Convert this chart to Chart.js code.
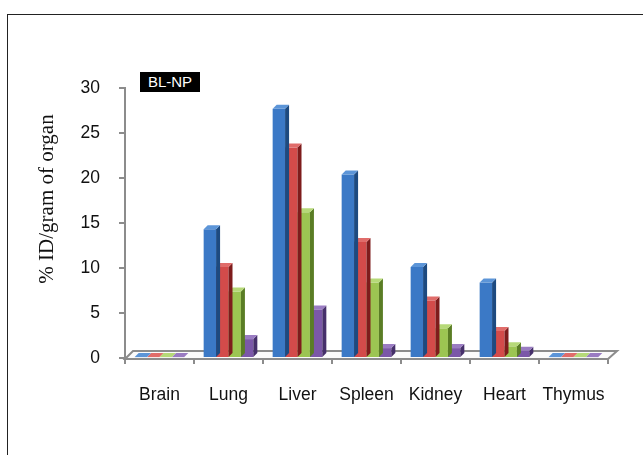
<!DOCTYPE html>
<html>
<head>
<meta charset="utf-8">
<script src="https://cdn.jsdelivr.net/npm/chart.js@4.4.1/dist/chart.umd.min.js"></script>
<style>
  html, body { margin: 0; padding: 0; background: #fff; overflow: hidden; }
  #frame { position: absolute; left: 7px; top: 14px; width: 700px; height: 500px; border: 1px solid #222; }
  #wrap { position: absolute; left: 0; top: 0; width: 643px; height: 455px; }
  #tag { position: absolute; left: 140px; top: 72px; width: 60px; height: 20px; background: #000; color: #fff;
         font: 15px "Liberation Sans Narrow", "Liberation Sans", Arial, sans-serif; line-height: 20px; text-align: center; }
</style>
</head>
<body>
<div id="frame"></div>
<div id="wrap"><canvas id="chart" width="643" height="455"></canvas></div>
<div id="tag">BL-NP</div>
<script>
const organs = ['Brain', 'Lung', 'Liver', 'Spleen', 'Kidney', 'Heart', 'Thymus'];
const series1 = [0.1, 14.3, 27.7, 20.4, 10.1, 8.4, 0.1];
const series2 = [0.1, 10.1, 23.4, 12.9, 6.4, 3.0, 0.1];
const series3 = [0.1, 7.4, 16.2, 8.4, 3.3, 1.3, 0.1];
const series4 = [0.1, 2.1, 5.4, 1.1, 1.1, 0.8, 0.1];
const yTicks = [0, 5, 10, 15, 20, 25, 30];

// front, side, top colours per series
const faces = [
  ['#3b79c6', '#1d4a80', '#5c95d8'],
  ['#d34b4a', '#7e1c1c', '#e06c6a'],
  ['#9cc552', '#5a7d25', '#b6d978'],
  ['#7b58a8', '#46306b', '#9a7cc2']
];
const DEPTH = 4;

const floor3d = {
  id: 'floor3d',
  beforeDatasetsDraw(chart) {
    const { ctx, chartArea } = chart;
    const y0 = chart.scales.y.getPixelForValue(0);
    const l = chartArea.left, r = chartArea.right;
    ctx.save();
    ctx.fillStyle = '#fbfbfb';
    ctx.strokeStyle = '#8c8c8c';
    ctx.lineWidth = 2;
    ctx.beginPath();
    ctx.moveTo(l, y0 + 1);
    ctx.lineTo(l + 8, y0 - 7);
    ctx.lineTo(r + 9, y0 - 7);
    ctx.lineTo(r, y0 + 1);
    ctx.closePath();
    ctx.fill();
    ctx.stroke();
    ctx.restore();
  },
  afterDatasetDraw(chart, args) {
    const { ctx } = chart;
    const cols = faces[args.index];
    const meta = args.meta;
    ctx.save();
    meta.data.forEach(bar => {
      const p = bar.getProps(['x', 'y', 'base', 'width'], true);
      const xl = p.x - p.width / 2, xr = p.x + p.width / 2;
      const d = DEPTH;
      ctx.fillStyle = cols[1];
      ctx.beginPath();
      ctx.moveTo(xr, p.y);
      ctx.lineTo(xr + d, p.y - d);
      ctx.lineTo(xr + d, p.base - d);
      ctx.lineTo(xr, p.base);
      ctx.closePath();
      ctx.fill();
      ctx.fillStyle = cols[2];
      ctx.beginPath();
      ctx.moveTo(xl, p.y);
      ctx.lineTo(xl + d, p.y - d);
      ctx.lineTo(xr + d, p.y - d);
      ctx.lineTo(xr, p.y);
      ctx.closePath();
      ctx.fill();
    });
    ctx.restore();
  },
  afterDraw(chart) {
    const { ctx } = chart;
    ctx.save();
    ctx.translate(47, 199);
    ctx.rotate(-Math.PI / 2);
    ctx.fillStyle = '#111';
    ctx.font = '21px "Liberation Serif", "Times New Roman", serif';
    ctx.textAlign = 'center';
    ctx.textBaseline = 'middle';
    ctx.fillText('% ID/gram of organ', 0, 0);
    ctx.restore();
  }
};

const mkSet = (label, data, i) => ({
  label, data,
  backgroundColor: faces[i][0],
  borderWidth: 0
});

new Chart(document.getElementById('chart'), {
  type: 'bar',
  data: {
    labels: organs,
    datasets: [
      mkSet('S1', series1, 0),
      mkSet('S2', series2, 1),
      mkSet('S3', series3, 2),
      mkSet('S4', series4, 3)
    ]
  },
  options: {
    responsive: false,
    animation: false,
    events: [],
    layout: { padding: { top: 88, right: 35, left: 0, bottom: 0 } },
    datasets: { bar: { categoryPercentage: 0.72, barPercentage: 1.0 } },
    plugins: { legend: { display: false }, tooltip: { enabled: false } },
    scales: {
      x: {
        afterFit: s => { s.height = 97; },
        border: { display: false },
        grid: { offset: true, drawOnChartArea: false, drawTicks: true, tickLength: 6, color: '#8c8c8c', lineWidth: 2 },
        ticks: { color: '#111', padding: 21, font: { family: '"Liberation Sans", Arial, sans-serif', size: 17.5 } }
      },
      y: {
        min: 0, max: 30,
        afterFit: s => { s.width = 125; },
        afterBuildTicks: s => { s.ticks = yTicks.map(v => ({ value: v })); },
        border: { display: true, color: '#8c8c8c', width: 2 },
        grid: { drawOnChartArea: false, drawTicks: true, tickLength: 6, color: '#8c8c8c', lineWidth: 2 },
        ticks: { color: '#111', padding: 19, font: { family: '"Liberation Sans", Arial, sans-serif', size: 17.5 } }
      }
    }
  },
  plugins: [floor3d]
});
</script>
</body>
</html>
